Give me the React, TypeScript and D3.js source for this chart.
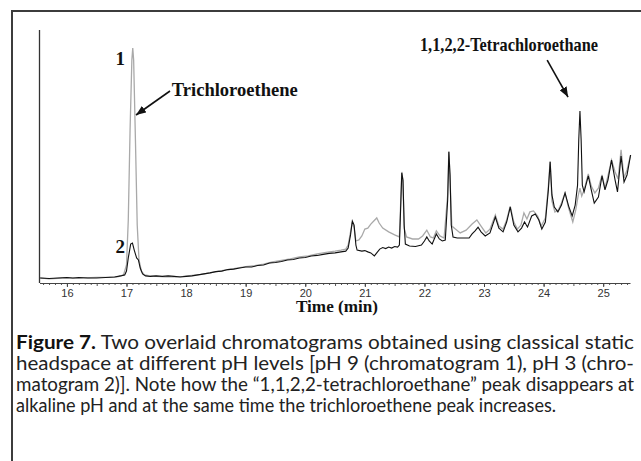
import React, { useEffect, useRef } from "react";
import * as d3 from "d3";

// retention time axis
const TIME_TICKS = [16, 17, 18, 19, 20, 21, 22, 23, 24, 25];
const TIME_LABELS = ["16", "17", "18", "19", "20", "21", "22", "23", "24", "25"];
const MINOR_TICKS = d3.range(156, 255).map((d) => d / 10);

// chromatogram 1, pH 9 (grey) : [time (min), detector response]
const PH9_TRACE: [number, number][] = [
  [15.55, 2.0], [15.7, 1.6], [15.85, 1.8], [16.0, 2.0], [16.15, 1.8], [16.3, 2.0],
  [16.5, 2.2], [16.7, 2.2], [16.85, 2.4], [16.95, 3.2], [17.0, 7.1], [17.03, 24.9],
  [17.06, 60.5], [17.09, 88.1], [17.105, 92.9], [17.12, 88.1], [17.15, 56.5],
  [17.18, 22.9], [17.21, 9.1], [17.25, 4.7], [17.3, 3.2], [17.4, 2.8], [17.5, 2.6],
  [17.65, 2.4], [17.8, 2.4], [17.95, 2.6], [18.1, 3.0], [18.25, 3.4], [18.4, 4.0],
  [18.55, 4.7], [18.7, 5.3], [18.85, 5.9], [19.0, 6.5], [19.15, 6.9], [19.3, 7.5],
  [19.45, 8.3], [19.6, 8.9], [19.75, 9.5], [19.9, 10.3], [20.05, 10.7], [20.2, 11.5],
  [20.35, 12.1], [20.5, 12.6], [20.6, 13.0], [20.68, 13.4], [20.72, 15.0], [20.76, 20.2],
  [20.79, 24.1], [20.82, 21.7], [20.85, 16.6], [20.9, 17.0], [20.95, 18.6], [21.0, 21.3],
  [21.05, 21.7], [21.1, 23.3], [21.15, 24.5], [21.2, 25.7], [21.24, 23.7], [21.3, 21.7],
  [21.4, 20.2], [21.5, 19.0], [21.58, 18.2], [21.6, 30.8], [21.62, 43.9], [21.64, 39.9],
  [21.66, 21.7], [21.7, 18.2], [21.8, 17.4], [21.9, 17.4], [21.97, 18.6], [22.04, 20.9],
  [22.1, 18.2], [22.15, 17.8], [22.2, 20.6], [22.26, 18.6], [22.33, 17.8], [22.39, 34.8],
  [22.41, 52.2], [22.43, 40.7], [22.46, 22.5], [22.52, 21.3], [22.6, 19.8], [22.7, 20.9],
  [22.8, 23.3], [22.88, 24.9], [22.95, 22.5], [23.03, 19.8], [23.1, 21.3], [23.19, 26.9],
  [23.25, 22.5], [23.32, 21.3], [23.38, 24.9], [23.44, 30.4], [23.5, 24.1], [23.56, 21.3],
  [23.62, 22.9], [23.67, 27.7], [23.72, 25.3], [23.77, 28.1], [23.83, 28.5], [23.9, 26.5],
  [23.96, 22.5], [24.03, 25.7], [24.08, 38.3], [24.11, 48.2], [24.14, 32.4], [24.19, 28.1],
  [24.25, 28.9], [24.3, 31.6], [24.36, 35.6], [24.42, 29.6], [24.49, 24.1], [24.54, 28.9],
  [24.58, 34.4], [24.61, 37.5], [24.64, 34.4], [24.68, 36.8], [24.75, 43.1], [24.8, 38.3],
  [24.86, 35.6], [24.92, 37.5], [24.98, 42.7], [25.03, 37.5], [25.08, 42.3], [25.14, 48.6],
  [25.2, 43.9], [25.25, 41.1], [25.3, 52.6], [25.35, 41.5], [25.4, 44.7], [25.46, 50.6],
];

// chromatogram 2, pH 3 (black)
const PH3_TRACE: [number, number][] = [
  [15.55, 2.0], [15.7, 1.8], [15.85, 2.0], [16.0, 2.2], [16.1, 2.0], [16.2, 2.2],
  [16.35, 2.0], [16.5, 2.0], [16.65, 2.2], [16.8, 2.4], [16.9, 2.8], [16.97, 3.2],
  [17.0, 4.7], [17.03, 9.9], [17.07, 15.4], [17.1, 15.8], [17.13, 13.0], [17.17, 9.9],
  [17.2, 9.1], [17.23, 5.9], [17.27, 3.6], [17.32, 2.8], [17.4, 2.6], [17.5, 2.8],
  [17.6, 2.6], [17.7, 2.8], [17.8, 2.6], [17.9, 2.4], [18.0, 2.6], [18.1, 2.8],
  [18.2, 3.2], [18.3, 3.6], [18.4, 4.0], [18.5, 4.5], [18.6, 4.7], [18.7, 5.3],
  [18.8, 5.5], [18.9, 5.9], [19.0, 6.3], [19.1, 6.3], [19.2, 6.9], [19.3, 7.1],
  [19.4, 7.9], [19.5, 8.1], [19.6, 8.5], [19.7, 9.1], [19.8, 9.3], [19.9, 9.9],
  [20.0, 10.1], [20.1, 10.7], [20.2, 10.9], [20.3, 11.3], [20.4, 11.7], [20.5, 11.9],
  [20.6, 12.3], [20.68, 12.6], [20.72, 13.8], [20.76, 19.0], [20.79, 24.5], [20.82, 22.9],
  [20.85, 15.0], [20.87, 13.0], [20.95, 12.6], [21.0, 12.8], [21.05, 12.3], [21.1, 11.9],
  [21.16, 10.7], [21.2, 11.9], [21.25, 13.4], [21.3, 14.0], [21.35, 13.6], [21.4, 14.2],
  [21.45, 13.8], [21.5, 14.4], [21.55, 14.2], [21.58, 15.0], [21.6, 28.9], [21.62, 43.5],
  [21.64, 40.7], [21.66, 22.9], [21.68, 15.4], [21.75, 14.6], [21.85, 14.4], [21.95, 15.0],
  [22.0, 16.6], [22.04, 18.2], [22.08, 16.6], [22.13, 15.4], [22.2, 19.4], [22.25, 17.4],
  [22.3, 16.6], [22.35, 17.0], [22.39, 32.8], [22.41, 51.8], [22.43, 42.7], [22.45, 22.9],
  [22.48, 18.2], [22.55, 17.8], [22.65, 17.8], [22.75, 17.8], [22.8, 19.4], [22.85, 20.6],
  [22.9, 22.1], [22.95, 20.2], [23.02, 18.6], [23.1, 19.8], [23.19, 26.1], [23.25, 21.7],
  [23.32, 20.2], [23.38, 24.1], [23.44, 30.0], [23.5, 22.9], [23.57, 20.2], [23.63, 21.7],
  [23.68, 24.1], [23.73, 22.1], [23.8, 26.5], [23.86, 27.3], [23.92, 24.9], [23.97, 21.3],
  [24.03, 24.1], [24.08, 36.8], [24.11, 47.8], [24.14, 34.8], [24.18, 30.0], [24.24, 28.1],
  [24.3, 30.8], [24.36, 35.6], [24.42, 30.4], [24.48, 26.5], [24.53, 30.8], [24.57, 38.7],
  [24.59, 56.5], [24.61, 68.0], [24.63, 56.5], [24.65, 38.7], [24.68, 36.0], [24.75, 42.3],
  [24.8, 36.8], [24.85, 31.6], [24.92, 34.0], [24.98, 42.3], [25.03, 36.8], [25.08, 40.7],
  [25.14, 48.6], [25.2, 40.7], [25.24, 36.0], [25.3, 50.2], [25.35, 39.9], [25.4, 42.7],
  [25.46, 50.6],
];

const CAPTION_LINES = [
  "Two overlaid chromatograms obtained using classical static",
  "headspace at different pH levels [pH 9 (chromatogram 1), pH 3 (chro-",
  "matogram 2)]. Note how the \u201c1,1,2,2-tetrachloroethane\u201d peak disappears at",
  "alkaline pH and at the same time the trichloroethene peak increases.",
];

const W = 641;
const H = 461;

export default function App() {
  const axisRef = useRef<SVGGElement>(null);
  const minorRef = useRef<SVGGElement>(null);

  const x = d3.scaleLinear().domain([15.54, 25.45]).range([39.5, 630]);
  const y = d3.scaleLinear().domain([0, 100]).range([283, 30]);

  const line = d3
    .line<[number, number]>()
    .x((d) => x(d[0]))
    .y((d) => y(d[1]));

  useEffect(() => {
    const major = d3
      .axisBottom(x)
      .tickValues(TIME_TICKS)
      .tickFormat((d, i) => TIME_LABELS[i])
      .tickSize(4)
      .tickSizeOuter(0)
      .tickPadding(2);
    const g = d3.select(axisRef.current!);
    g.call(major);
    g.select(".domain").attr("stroke", "#444").attr("stroke-width", 1.2);
    g.selectAll(".tick line").attr("stroke", "#444");
    g.selectAll(".tick text")
      .attr("fill", "#333")
      .attr("font-family", "'Liberation Sans', Arial, sans-serif")
      .attr("font-size", 11);

    const minor = d3
      .axisBottom(x)
      .tickValues(MINOR_TICKS)
      .tickFormat(() => "")
      .tickSize(2)
      .tickSizeOuter(0);
    const m = d3.select(minorRef.current!);
    m.call(minor);
    m.select(".domain").remove();
    m.selectAll(".tick line")
      .attr("stroke", "#555")
      .attr("y2", (d: any) => (Math.round(d * 10) % 5 === 0 ? 3 : 2));
  }, []);

  const serif = "'Liberation Serif', 'Times New Roman', serif";
  const sans = "Lato, 'Liberation Sans', Arial, sans-serif";

  return (
    <svg
      width={W}
      height={H}
      style={{ position: "absolute", left: 0, top: 0, background: "#fff" }}
    >
      <defs>
        <marker
          id="head"
          viewBox="0 0 10 8"
          refX="10"
          refY="4"
          markerWidth="10"
          markerHeight="8"
          markerUnits="userSpaceOnUse"
          orient="auto"
        >
          <path d="M0,0 L10,4 L0,8 z" fill="#111" />
        </marker>
      </defs>

      {/* frame */}
      <rect x={12} y={11} width={700} height={600} fill="none" stroke="#3c3c3c" strokeWidth={2} />

      {/* y axis line */}
      <line x1={x(15.54)} x2={x(15.54)} y1={y(100)} y2={y(0)} stroke="#333" strokeWidth={1.3} />

      <g ref={minorRef} transform={`translate(0,${y(0)})`} />
      <g ref={axisRef} transform={`translate(0,${y(0)})`} />

      {/* traces */}
      <path d={line(PH9_TRACE)!} fill="none" stroke="#a9a9a9" strokeWidth={1.3} />
      <path d={line(PH3_TRACE)!} fill="none" stroke="#111" strokeWidth={1.1} />

      {/* peak annotations */}
      <g fontFamily={serif} fontWeight="bold" fill="#111">
        <text x={x(16.975)} y={y(86.2)} fontSize={19} textAnchor="end">1</text>
        <text x={x(16.975)} y={y(11.9)} fontSize={19} textAnchor="end">2</text>
        <text x={x(17.76)} y={y(73.9)} fontSize={19} textLength={126} lengthAdjust="spacingAndGlyphs">
          Trichloroethene
        </text>
        <text x={x(21.925)} y={y(91.7)} fontSize={19} textLength={178} lengthAdjust="spacingAndGlyphs">
          1,1,2,2-Tetrachloroethane
        </text>
      </g>
      <line
        x1={x(17.73)} y1={y(75.9)} x2={x(17.16)} y2={y(66.4)}
        stroke="#111" strokeWidth={1.6} markerEnd="url(#head)"
      />
      <line
        x1={x(24.06)} y1={y(88.1)} x2={x(24.41)} y2={y(73.5)}
        stroke="#111" strokeWidth={1.6} markerEnd="url(#head)"
      />

      <text
        x={337} y={312} textAnchor="middle" fontFamily={serif} fontWeight="bold"
        fontSize={16} textLength={82} lengthAdjust="spacingAndGlyphs" fill="#111"
      >
        Time (min)
      </text>

      {/* caption */}
      <g fontFamily={sans} fontSize={18.5} fill="#222">
        <text x={16} y={349} textLength={618} lengthAdjust="spacingAndGlyphs">
          <tspan fontWeight="bold" fill="#111">Figure 7.</tspan> {CAPTION_LINES[0]}
        </text>
        <text x={16} y={370} textLength={618} lengthAdjust="spacingAndGlyphs">{CAPTION_LINES[1]}</text>
        <text x={16} y={391} textLength={618} lengthAdjust="spacingAndGlyphs">{CAPTION_LINES[2]}</text>
        <text x={16} y={412} textLength={540} lengthAdjust="spacingAndGlyphs">{CAPTION_LINES[3]}</text>
      </g>
    </svg>
  );
}
